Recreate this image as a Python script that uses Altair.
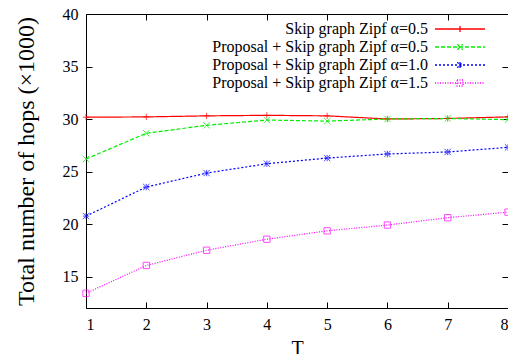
import altair as alt
import pandas as pd

T = [1, 2, 3, 4, 5, 6, 7, 8]
series_names = [
    "Skip graph Zipf α=0.5",
    "Proposal + Skip graph Zipf α=0.5",
    "Proposal + Skip graph Zipf α=1.0",
    "Proposal + Skip graph Zipf α=1.5",
]
skip_05 = [30.17, 30.2, 30.3, 30.35, 30.3, 30.0, 30.05, 30.2]
prop_05 = [26.19, 28.64, 29.4, 29.9, 29.8, 30.0, 30.05, 29.94]
prop_10 = [20.75, 23.52, 24.85, 25.74, 26.28, 26.67, 26.86, 27.3]
prop_15 = [13.4, 16.05, 17.5, 18.55, 19.35, 19.9, 20.6, 21.13]
y_ticks = [15, 20, 25, 30, 35, 40]

colors = ["#ff0000", "#00ee00", "#0000ff", "#ff00ff"]
dashes = [[1, 0], [4, 2], [2, 2], [1, 1.5]]
shapes = [
    "M-1,0H1M0,-1V1",
    "M-1,-1L1,1M-1,1L1,-1",
    "M-1,0H1M0,-1V1M-1,-1L1,1M-1,1L1,-1",
    "M-1,-1H1V1H-1Z",
]
# legend samples: a line with the marker in its middle (unit: half of sqrt(size))
legend_shapes = [
    "M-5,0H5M0,-0.6V0.6",
    "M-5,0H5M-0.55,-0.55L0.55,0.55M-0.55,0.55L0.55,-0.55",
    "M-5,0H5M0,-0.6V0.6M-0.55,-0.55L0.55,0.55M-0.55,0.55L0.55,-0.55",
    "M-5,0H5M-0.6,-0.6H0.6V0.6H-0.6Z",
]

rows = []
for name, vals in zip(series_names, [skip_05, prop_05, prop_10, prop_15]):
    for t, v in zip(T, vals):
        rows.append({"T": t, "hops": v, "series": name})
df = pd.DataFrame(rows)

W, H = 422, 294
FONT = "Liberation Serif"

xscale = alt.Scale(domain=[1, 8], nice=False)
yscale = alt.Scale(domain=[12, 40], nice=False, zero=False)

names_js = "[" + ",".join("'" + n + "'" for n in series_names) + "]"
shapes_js = "[" + ",".join("'" + s + "'" for s in legend_shapes) + "]"
shape_expr = f"{shapes_js}[indexof({names_js}, datum.value)]"

base = alt.Chart(df)

lines = base.mark_line(strokeWidth=1.2).encode(
    x=alt.X("T:Q", scale=xscale,
            axis=alt.Axis(title="T", values=T, tickSize=0, domain=False, grid=False,
                          labelPadding=8, titlePadding=6, titleFontSize=20,
                          titleFontWeight="normal", labelFontSize=16, format="d")),
    y=alt.Y("hops:Q", scale=yscale,
            axis=alt.Axis(title="Total number of hops (×1000)", values=y_ticks, tickSize=0,
                          domain=False, grid=False, labelPadding=8, titlePadding=24,
                          titleFontSize=24, titleFontWeight="normal", labelFontSize=16)),
    color=alt.Color("series:N", sort=series_names,
                    scale=alt.Scale(domain=series_names, range=colors),
                    legend=alt.Legend(title=None, orient="none", legendX=366, legendY=7,
                                      symbolType={"expr": shape_expr}, symbolSize=100,
                                      symbolStrokeWidth=1.3, labelAlign="right",
                                      labelOffset={"expr": "-40"}, labelFontSize=16, labelFont=FONT,
                                      rowPadding=2, labelLimit=400, padding=0)),
    strokeDash=alt.StrokeDash("series:N", sort=series_names,
                              scale=alt.Scale(domain=series_names, range=dashes),
                              legend=None),
)

point_layers = []
for name, col, shp in zip(series_names, colors, shapes):
    point_layers.append(
        base.transform_filter(alt.datum.series == name)
        .mark_point(filled=False, size=40, strokeWidth=1, color=col, shape=shp)
        .encode(
            x=alt.X("T:Q", scale=xscale, axis=None),
            y=alt.Y("hops:Q", scale=yscale, axis=None),
        )
    )

tick_ax = dict(labels=False, title=None, domain=False, grid=False, tickSize=6,
               tickColor="black", tickWidth=1)

ticks_a = base.mark_point(opacity=0).encode(
    x=alt.X("T:Q", scale=xscale, axis=alt.Axis(orient="top", offset=-H, values=T, **tick_ax)),
    y=alt.Y("hops:Q", scale=yscale, axis=alt.Axis(orient="right", offset=-W, values=y_ticks, **tick_ax)),
)
ticks_b = base.mark_point(opacity=0).encode(
    x=alt.X("T:Q", scale=xscale, axis=alt.Axis(orient="bottom", offset=-H, values=T, **tick_ax)),
    y=alt.Y("hops:Q", scale=yscale, axis=alt.Axis(orient="left", offset=-W, values=y_ticks, **tick_ax)),
)

chart = alt.layer(lines, *point_layers, ticks_a, ticks_b).resolve_axis(
    x="independent", y="independent"
).properties(
    width=W, height=H,
    autosize=alt.AutoSizeParams(type="none"),
    padding={"left": 78, "top": 6, "right": 0, "bottom": 46},
).configure_view(
    stroke="black", strokeWidth=1
).configure_axis(
    labelFont=FONT, titleFont=FONT, labelColor="black", titleColor="black"
).configure_legend(
    labelColor="black"
)

chart.save("out.html", embed_options={"renderer": "svg", "actions": False})
